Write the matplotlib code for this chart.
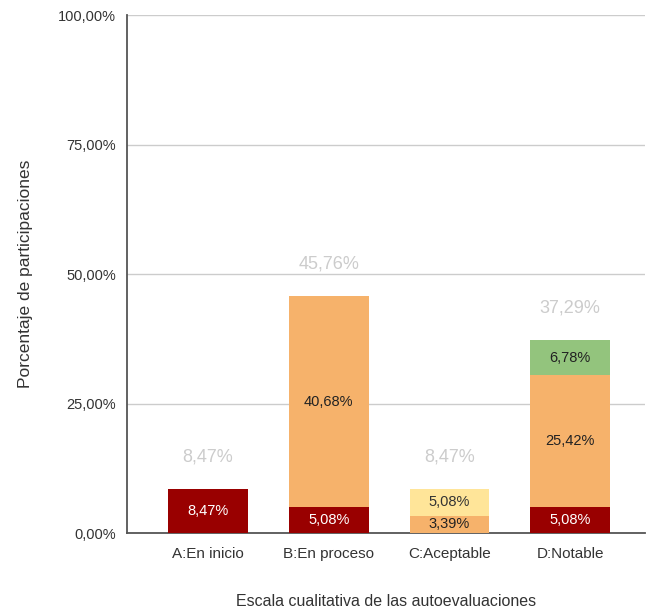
import matplotlib.pyplot as plt

categories = ["A:En inicio", "B:En proceso", "C:Aceptable", "D:Notable"]
# stacked segments, bottom to top
dark_red = [8.47, 5.08, 0.0, 5.08]
orange = [0.0, 40.68, 3.39, 25.42]
yellow = [0.0, 0.0, 5.08, 0.0]
green = [0.0, 0.0, 0.0, 6.78]
totals = [8.47, 45.76, 8.47, 37.29]

y_ticks = [0, 25, 50, 75, 100]


def fmt(v):
    return f"{v:.2f}".replace(".", ",") + "%"


plt.rcParams["font.family"] = ["Liberation Sans", "DejaVu Sans"]

fig = plt.figure(figsize=(6.49, 6.08), dpi=100)
ax = fig.add_axes([0.196, 0.123, 0.798, 0.852])

x = list(range(len(categories)))
width = 0.66
series = [
    (dark_red, "#990000", "white"),
    (orange, "#f6b26b", "#222222"),
    (yellow, "#ffe599", "#333333"),
    (green, "#93c47d", "#222222"),
]

bottom = [0.0] * len(categories)
for vals, color, txt in series:
    ax.bar(x, vals, width, bottom=bottom, color=color, zorder=3)
    for i, v in enumerate(vals):
        if v > 0:
            ax.text(x[i], bottom[i] + v / 2, fmt(v), ha="center", va="center",
                    fontsize=10.5, color=txt, zorder=4)
    bottom = [b + v for b, v in zip(bottom, vals)]

for i, t in enumerate(totals):
    ax.text(x[i], t + 6.2, fmt(t), ha="center", va="center",
            fontsize=13, color="#cccccc")

ax.set_xlim(-0.67, 3.62)
ax.set_ylim(0, 100)
ax.set_yticks(y_ticks)
ax.set_yticklabels([fmt(v) for v in y_ticks], fontsize=10.5, color="#333333")
ax.set_xticks(x)
ax.set_xticklabels(categories, fontsize=11, color="#333333")
ax.tick_params(axis="x", length=0, pad=10)
ax.tick_params(axis="y", length=0, pad=8)
ax.grid(axis="y", color="#cccccc", linewidth=1, zorder=0)

for s in ["top", "right"]:
    ax.spines[s].set_visible(False)
ax.spines["left"].set_color("#555555")
ax.spines["left"].set_linewidth(1.3)
ax.spines["bottom"].set_color("#555555")
ax.spines["bottom"].set_linewidth(1.3)

ax.set_ylabel("Porcentaje de participaciones", fontsize=12.5, color="#333333", labelpad=18)
ax.set_xlabel("Escala cualitativa de las autoevaluaciones", fontsize=11.5,
              color="#333333", labelpad=24)

fig.savefig("out.png", dpi=100)
